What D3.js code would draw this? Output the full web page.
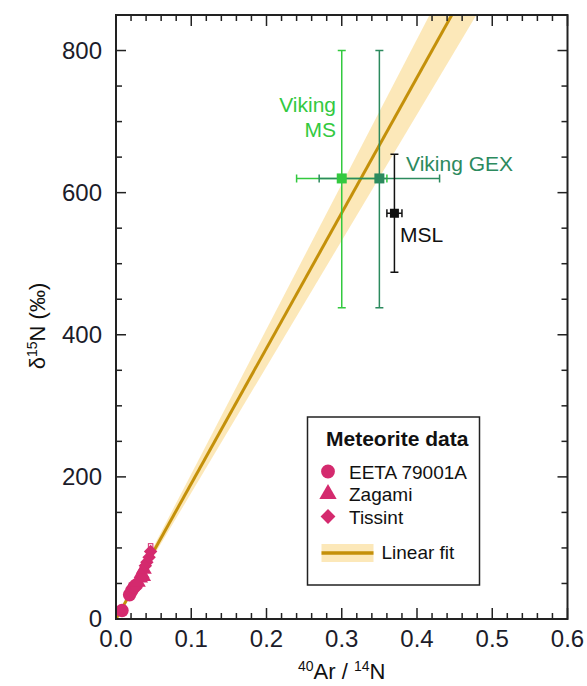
<!DOCTYPE html>
<html><head><meta charset="utf-8">
<script src="https://cdn.jsdelivr.net/npm/d3@7"></script>
<style>body{margin:0;background:#fff}svg{display:block}text{font-family:"Liberation Sans",Arial,sans-serif}</style>
</head><body><svg id="c" width="587" height="686"></svg>
<script>
// ---- data ----
const xTicks = [0, 0.1, 0.2, 0.3, 0.4, 0.5, 0.6];
const yTicks = [0, 200, 400, 600, 800];
const eeta = [[0.008, 12], [0.018, 34], [0.021, 40], [0.024, 45], [0.027, 48]];
const zagami = [[0.029, 52], [0.032, 58], [0.034, 64], [0.036, 60], [0.037, 70]];
const tissint = [[0.039, 75], [0.041, 80], [0.044, 87], [0.046, 95]];
const tissintErr = [[0.046, 97, 0.003, 9]];
const fitSlope = 1905, bandHighSlope = 2040, bandLowSlope = 1775;
const viking = [
  {name: "Viking MS", x: 0.30, y: 620, xlo: 0.24, xhi: 0.36, ylo: 438, yhi: 800, color: "#33c93f"},
  {name: "Viking GEX", x: 0.35, y: 620, xlo: 0.27, xhi: 0.43, ylo: 438, yhi: 800, color: "#2c8a5e"}
];
const msl = {name: "MSL", x: 0.37, y: 571, xlo: 0.36, xhi: 0.38, ylo: 488, yhi: 654, color: "#111"};
const legendItems = ["EETA 79001A", "Zagami", "Tissint"];

// ---- scales ----
const svg = d3.select("#c");
const x = d3.scaleLinear().domain([0, 0.6]).range([116, 567.5]);
const y = d3.scaleLinear().domain([0, 850]).range([619, 15]);
const pink = "#d42a6e", gold = "#c4900a", bandCol = "#fbe4ad";

svg.append("defs").append("clipPath").attr("id", "clip")
  .append("rect").attr("x", x(0)).attr("y", y(850)).attr("width", x(0.6) - x(0)).attr("height", y(0) - y(850));
const plot = svg.append("g").attr("clip-path", "url(#clip)");

// band
const yTop = 850;
plot.append("path").attr("fill", bandCol).attr("opacity", 0.85)
  .attr("d", d3.line()([[x(0), y(0)], [x(yTop / bandHighSlope), y(yTop)], [x(yTop / bandLowSlope), y(yTop)]]) + "Z");
// fit line
plot.append("line").attr("x1", x(0)).attr("y1", y(0)).attr("x2", x(yTop / fitSlope)).attr("y2", y(yTop))
  .attr("stroke", gold).attr("stroke-width", 3);

// error bars helper
function errBar(g, d, cap, sw) {
  g.append("line").attr("x1", x(d.x)).attr("x2", x(d.x)).attr("y1", y(d.ylo)).attr("y2", y(d.yhi)).attr("stroke", d.color).attr("stroke-width", sw);
  g.append("line").attr("x1", x(d.xlo)).attr("x2", x(d.xhi)).attr("y1", y(d.y)).attr("y2", y(d.y)).attr("stroke", d.color).attr("stroke-width", sw);
  [d.ylo, d.yhi].forEach(v => g.append("line").attr("x1", x(d.x) - cap).attr("x2", x(d.x) + cap).attr("y1", y(v)).attr("y2", y(v)).attr("stroke", d.color).attr("stroke-width", sw));
  [d.xlo, d.xhi].forEach(v => g.append("line").attr("x1", x(v)).attr("x2", x(v)).attr("y1", y(d.y) - cap).attr("y2", y(d.y) + cap).attr("stroke", d.color).attr("stroke-width", sw));
}
viking.forEach(d => errBar(plot, d, 4, 1.5));
errBar(plot, msl, 4, 1.5);
viking.forEach(d => plot.append("rect").attr("x", x(d.x) - 5).attr("y", y(d.y) - 5).attr("width", 10).attr("height", 10).attr("fill", d.color));
plot.append("rect").attr("x", x(msl.x) - 4.5).attr("y", y(msl.y) - 4.5).attr("width", 9).attr("height", 9).attr("fill", msl.color);

// meteorites
tissintErr.forEach(([a, b, ex, ey]) => {
  plot.append("rect").attr("x", x(a - ex)).attr("y", y(b + ey)).attr("width", x(a + ex) - x(a - ex)).attr("height", y(b - ey) - y(b + ey))
    .attr("fill", "none").attr("stroke", pink).attr("stroke-width", 1);
});
function pts(data, s, size, rot) {
  plot.selectAll(null).data(data).enter().append("path")
    .attr("transform", d => `translate(${x(d[0])},${y(d[1])}) rotate(${rot})`)
    .attr("d", d3.symbol().type(s).size(size)).attr("fill", pink);
}
pts(eeta, d3.symbolCircle, 140, 0);
pts(zagami, d3.symbolTriangle, 110, 0);
pts(tissint, d3.symbolSquare, 90, 45);

// labels
svg.append("text").attr("x", 336).attr("y", 112).attr("text-anchor", "end").attr("font-size", 21).attr("fill", viking[0].color).text("Viking");
svg.append("text").attr("x", 336).attr("y", 137).attr("text-anchor", "end").attr("font-size", 21).attr("fill", viking[0].color).text("MS");
svg.append("text").attr("x", 406).attr("y", 171).attr("font-size", 21).attr("fill", viking[1].color).text("Viking GEX");
svg.append("text").attr("x", 400).attr("y", 242).attr("font-size", 21).attr("fill", "#111").text("MSL");

// axes frame
const ax = svg.append("g").attr("stroke", "#222").attr("fill", "none");
ax.append("rect").attr("x", x(0)).attr("y", y(850)).attr("width", x(0.6) - x(0)).attr("height", y(0) - y(850)).attr("stroke-width", 2);
const xMinor = d3.range(0, 31).map(i => i * 0.02);
const yMinor = d3.range(0, 17).map(i => i * 50);
xMinor.forEach(v => {
  const major = xTicks.some(t => Math.abs(t - v) < 1e-9);
  const L = major ? 11 : 6;
  ax.append("line").attr("x1", x(v)).attr("x2", x(v)).attr("y1", y(0)).attr("y2", y(0) - L).attr("stroke-width", 1.5);
  ax.append("line").attr("x1", x(v)).attr("x2", x(v)).attr("y1", y(850)).attr("y2", y(850) + L).attr("stroke-width", 1.5);
});
yMinor.forEach(v => {
  const major = yTicks.includes(v);
  const L = major ? 10 : 6;
  ax.append("line").attr("x1", x(0)).attr("x2", x(0) + L).attr("y1", y(v)).attr("y2", y(v)).attr("stroke-width", 1.5);
  ax.append("line").attr("x1", x(0.6)).attr("x2", x(0.6) - L).attr("y1", y(v)).attr("y2", y(v)).attr("stroke-width", 1.5);
});
svg.selectAll(null).data(xTicks).enter().append("text")
  .attr("x", d => x(d)).attr("y", 647).attr("text-anchor", "middle").attr("font-size", 24).attr("fill", "#1c1c2a")
  .text(d => d.toFixed(1));
svg.selectAll(null).data(yTicks).enter().append("text")
  .attr("x", 102).attr("y", d => y(d) + 8).attr("text-anchor", "end").attr("font-size", 24).attr("fill", "#1c1c2a")
  .text(d => d);

// axis titles
const xt = svg.append("text").attr("x", 341.7).attr("y", 679).attr("text-anchor", "middle").attr("font-size", 22).attr("fill", "#111");
xt.append("tspan").attr("font-size", 14).attr("dy", -8).text("40");
xt.append("tspan").attr("dy", 8).text("Ar / ");
xt.append("tspan").attr("font-size", 14).attr("dy", -8).text("14");
xt.append("tspan").attr("dy", 8).text("N");
const yt = svg.append("text").attr("transform", "translate(45,326) rotate(-90)").attr("text-anchor", "middle").attr("font-size", 22).attr("fill", "#111");
yt.append("tspan").text("δ");
yt.append("tspan").attr("font-size", 14).attr("dy", -8).text("15");
yt.append("tspan").attr("dy", 8).text("N (‰)");

// legend
const lg = svg.append("g");
lg.append("rect").attr("x", 307.5).attr("y", 417).attr("width", 172).attr("height", 168).attr("fill", "#fff").attr("stroke", "#222").attr("stroke-width", 1.5);
lg.append("text").attr("x", 326).attr("y", 446).attr("font-size", 21).attr("font-weight", "bold").attr("fill", "#111").text("Meteorite data");
const lsyms = [[d3.symbolCircle, 150, 471.5, 0], [d3.symbolTriangle, 130, 494, 0], [d3.symbolSquare, 110, 516.5, 45]];
legendItems.forEach((t, i) => {
  lg.append("path").attr("transform", `translate(328,${lsyms[i][2]}) rotate(${lsyms[i][3]})`).attr("d", d3.symbol().type(lsyms[i][0]).size(lsyms[i][1])).attr("fill", pink);
  lg.append("text").attr("x", 349).attr("y", lsyms[i][2] + 7).attr("font-size", 19).attr("fill", "#111").text(t);
});
lg.append("rect").attr("x", 321.5).attr("y", 544).attr("width", 52).attr("height", 18).attr("fill", bandCol).attr("opacity", 0.85);
lg.append("line").attr("x1", 321.5).attr("x2", 373.5).attr("y1", 553).attr("y2", 553).attr("stroke", gold).attr("stroke-width", 3.5);
lg.append("text").attr("x", 381.5).attr("y", 559).attr("font-size", 19).attr("fill", "#111").text("Linear fit");
</script></body></html>
